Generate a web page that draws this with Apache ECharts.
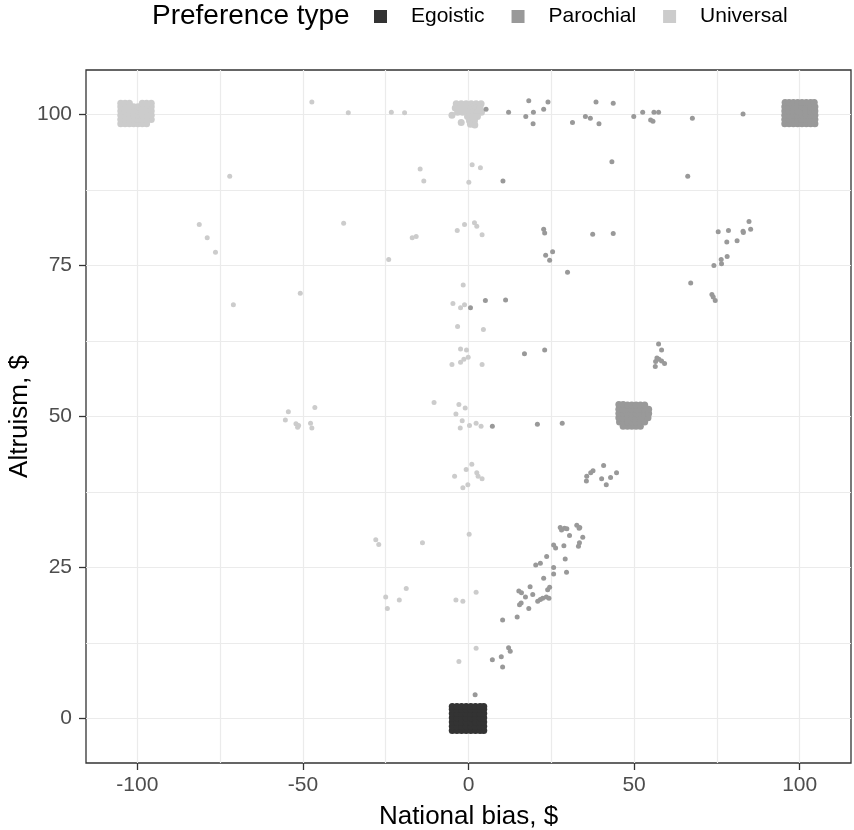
<!DOCTYPE html>
<html>
<head>
<meta charset="utf-8">
<script src="https://cdn.jsdelivr.net/npm/echarts@6/dist/echarts.min.js"></script>
<style>html,body{margin:0;padding:0;background:#fff}#c{width:854px;height:830px}</style>
</head>
<body>
<div id="c"></div>
<script>
const categories = ['Egoistic', 'Parochial', 'Universal'];
const xTicks = [-100, -50, 0, 50, 100];
const yTicks = [0, 25, 50, 75, 100];
const xGrid = [-100, -75, -50, -25, 0, 25, 50, 75, 100];
const yGrid = [0, 12.5, 25, 37.5, 50, 62.5, 75, 87.5, 100];

// Dense (over-plotted) groups of responses
const egoisticCluster = [
  [-4.9,-2.0],[-3.5,-2.0],[-2.1,-2.0],[-0.7,-2.0],[0.7,-2.0],[2.1,-2.0],[3.5,-2.0],[4.6,-2.0],
  [-4.9,-1.3],[-3.5,-1.3],[-2.1,-1.3],[-0.7,-1.3],[0.7,-1.3],[2.1,-1.3],[3.5,-1.3],[4.6,-1.3],
  [-4.9,-0.6],[-3.5,-0.6],[-2.1,-0.6],[-0.7,-0.6],[0.7,-0.6],[2.1,-0.6],[3.5,-0.6],[4.6,-0.6],
  [-4.9,0.1],[-3.5,0.1],[-2.1,0.1],[-0.7,0.1],[0.7,0.1],[2.1,0.1],[3.5,0.1],[4.6,0.1],
  [-4.9,0.8],[-3.5,0.8],[-2.1,0.8],[-0.7,0.8],[0.7,0.8],[2.1,0.8],[3.5,0.8],[4.6,0.8],
  [-4.9,1.5],[-3.5,1.5],[-2.1,1.5],[-0.7,1.5],[0.7,1.5],[2.1,1.5],[3.5,1.5],[4.6,1.5],
  [-4.9,1.95],[-3.5,1.95],[-2.1,1.95],[-0.7,1.95],[0.7,1.95],[2.1,1.95],[3.5,1.95],[4.6,1.95]
];

const parochialCluster = [
  // near (100, 100)
  [95.5,98.5],[96.8,98.5],[98.1,98.5],[99.4,98.5],[100.7,98.5],[102.0,98.5],[103.3,98.5],[104.6,98.5],
  [95.5,99.2],[96.8,99.2],[98.1,99.2],[99.4,99.2],[100.7,99.2],[102.0,99.2],[103.3,99.2],[104.6,99.2],
  [95.5,99.9],[96.8,99.9],[98.1,99.9],[99.4,99.9],[100.7,99.9],[102.0,99.9],[103.3,99.9],[104.6,99.9],
  [95.5,100.6],[96.8,100.6],[98.1,100.6],[99.4,100.6],[100.7,100.6],[102.0,100.6],[103.3,100.6],[104.6,100.6],
  [95.5,101.3],[96.8,101.3],[98.1,101.3],[99.4,101.3],[100.7,101.3],[102.0,101.3],[103.3,101.3],[104.6,101.3],
  [95.6,102.0],[96.8,102.0],[98.1,102.0],[99.4,102.0],[100.7,102.0],[102.0,102.0],[103.3,102.0],[104.4,102.0],
  // near (50, 50)
  [46.7,48.4],[48.0,48.4],[49.3,48.4],[50.6,48.4],[51.9,48.4],
  [45.6,49.1],[46.7,49.1],[48.0,49.1],[49.3,49.1],[50.6,49.1],[51.9,49.1],[53.2,49.1],
  [45.4,49.8],[46.7,49.8],[48.0,49.8],[49.3,49.8],[50.6,49.8],[51.9,49.8],[53.2,49.8],[54.2,49.8],
  [45.4,50.5],[46.7,50.5],[48.0,50.5],[49.3,50.5],[50.6,50.5],[51.9,50.5],[53.2,50.5],[54.4,50.5],
  [45.4,51.2],[46.7,51.2],[48.0,51.2],[49.3,51.2],[50.6,51.2],[51.9,51.2],[53.2,51.2],[54.4,51.2],
  [45.4,52.0],[46.7,52.0],[48.0,51.9],[49.3,51.9],[50.6,51.9],[51.9,51.9],[53.2,51.9]
];

const universalCluster = [
  // near (-100, 100)
  [-105.0,98.5],[-103.7,98.5],[-102.4,98.5],[-101.1,98.5],[-99.8,98.5],[-98.5,98.5],[-97.2,98.5],
  [-105.0,99.2],[-103.7,99.2],[-102.4,99.2],[-101.1,99.2],[-99.8,99.2],[-98.5,99.2],[-97.2,99.2],[-95.8,99.2],
  [-105.0,99.9],[-103.7,99.9],[-102.4,99.9],[-101.1,99.9],[-99.8,99.9],[-98.5,99.9],[-97.2,99.9],[-95.8,99.9],
  [-105.0,100.6],[-103.7,100.6],[-102.4,100.6],[-101.1,100.6],[-99.8,100.6],[-98.5,100.6],[-97.2,100.6],[-95.8,100.6],
  [-105.0,101.3],[-103.7,101.3],[-102.4,101.3],[-101.1,101.3],[-99.8,101.3],[-98.5,101.3],[-97.2,101.3],[-95.8,101.3],
  [-105.0,101.9],[-103.7,101.9],[-102.4,101.9],[-98.5,101.9],[-97.2,101.9],[-95.8,101.9],
  // near (0, 100)
  [-3.7,101.8],[-2.2,101.8],[-0.7,101.8],[0.8,101.8],[2.3,101.8],[3.8,101.8],
  [-4.0,101.1],[-2.5,101.1],[-1.0,101.1],[0.5,101.1],[2.0,101.1],[3.5,101.1],
  [-3.3,100.4],[-1.8,100.4],[-0.3,100.4],[1.2,100.4],[2.7,100.4],[3.9,100.4],
  [-5.0,99.9],[-0.3,99.7],[1.2,99.7],[2.7,99.7],
  [-2.2,98.7],[0.3,99.0],[1.8,99.0],[0.6,98.4],[1.9,98.3]
];

// Individual responses
const egoistic = [];

const parochial = [
  [5.3,100.9],[12.1,100.4],[18.2,102.3],[19.6,100.4],[17.3,99.7],[19.5,98.5],[22.7,100.9],[24.0,102.1],
  [31.4,98.7],[35.3,99.7],[36.8,99.4],[38.5,102.1],[39.4,98.5],[43.7,101.9],[43.3,92.2],[49.9,99.7],
  [52.6,100.4],[56.0,100.4],[57.4,100.4],[55.0,99.1],[55.7,98.9],[67.6,99.4],[82.9,100.1],[66.2,89.8],[10.4,89.0],
  [43.7,80.3],[37.5,80.2],[22.7,81.0],[23.0,80.4],[23.3,76.7],[24.5,75.9],[25.4,77.3],[29.9,73.9],
  [75.4,80.6],[78.5,80.8],[82.9,80.7],[83.0,80.5],[84.7,82.3],[85.2,81.0],[78.0,78.9],[81.1,79.1],
  [76.3,76.0],[78.1,76.5],[74.1,75.0],[76.4,75.3],[67.1,72.1],[73.5,70.2],[73.9,69.8],[74.5,69.2],
  [0.6,68.0],[5.1,69.2],[11.2,69.3],[16.9,60.4],[23.0,61.0],
  [57.4,62.0],[58.3,61.0],[56.9,59.7],[57.5,59.5],[58.3,59.2],[59.2,58.8],[56.5,59.1],[56.4,58.3],
  [7.2,48.4],[20.8,48.7],[28.3,48.9],
  [40.8,41.9],[37.6,41.0],[36.9,40.7],[35.7,40.1],[35.6,39.3],[44.7,40.7],[40.2,39.7],[42.9,39.9],[41.6,38.7],
  [27.7,31.6],[29.0,31.5],[28.1,31.2],[29.7,31.4],[32.7,32.0],[33.6,31.6],[33.4,31.5],[30.5,30.3],[34.5,30.0],
  [33.5,29.1],[33.2,28.5],[28.8,28.6],[25.7,28.7],[26.3,28.2],[23.6,26.8],[29.2,26.4],[20.3,25.4],[21.7,25.7],
  [25.7,25.0],[25.7,23.9],[29.6,24.2],[22.7,23.2],[18.6,21.8],[15.2,21.1],[16.0,20.8],[24.5,21.7],[23.9,21.3],
  [19.4,20.5],[17.2,20.1],[15.9,19.1],[15.4,18.8],[18.2,18.2],[20.9,19.4],[21.7,19.7],[22.4,19.9],[23.5,20.1],
  [24.3,19.9],[14.7,16.8],[10.3,16.3],[12.1,11.7],[12.6,11.1],[9.9,10.2],[7.2,9.7],[10.3,8.5],[2.0,3.9]
];

const universal = [
  [-47.3,102.1],[-36.3,100.3],[-23.3,100.4],[-19.3,100.3],[-72.1,89.8],[-14.6,91.0],[-13.5,89.0],
  [1.1,91.7],[3.6,91.2],[0.1,88.8],
  [-81.3,81.8],[-78.9,79.6],[-76.4,77.2],[-37.7,82.0],[-17.0,79.6],[-15.8,79.8],[-24.1,76.0],
  [-3.4,80.8],[-1.2,81.8],[1.8,82.1],[2.5,81.5],[4.1,80.1],
  [-71.0,68.5],[-50.8,70.4],[-1.6,71.8],[-4.7,68.7],[-2.4,68.0],[-1.2,68.5],[-3.3,64.9],[4.5,64.4],
  [-2.4,61.2],[-0.6,61.0],[-5.0,58.6],[-2.4,59.0],[-1.4,59.5],[-0.1,59.8],[4.1,58.6],
  [-54.4,50.8],[-55.3,49.4],[-52.1,48.8],[-51.3,48.5],[-51.6,48.2],[-46.4,51.5],[-47.7,48.9],[-47.3,48.1],
  [-10.4,52.3],[-2.9,52.0],[-1.0,51.4],[-3.8,50.4],[-1.9,49.3],[-2.5,48.1],[0.3,48.5],[2.3,48.9],[3.8,48.4],
  [1.0,42.1],[-0.7,41.2],[-4.2,40.1],[2.5,40.7],[2.9,40.1],[4.1,39.7],[-1.7,38.2],[-0.2,38.7],
  [-28.0,29.6],[-27.1,28.8],[-13.9,29.1],[0.2,30.5],
  [-25.0,20.1],[-24.5,18.2],[-20.9,19.6],[-18.8,21.5],[-3.8,19.6],[-1.7,19.4],[2.3,20.9],[2.3,11.6],[-2.9,9.4]
];

const colors = {Egoistic: '#333333', Parochial: '#999999', Universal: '#cccccc'};
const FONT = '"Liberation Sans", Arial, Helvetica, sans-serif';

const chart = echarts.init(document.getElementById('c'), null, {renderer: 'canvas'});

function pointSeries(name, data, z, size) {
  return {
    name: name, type: 'scatter', data: data, symbol: 'circle', symbolSize: size,
    itemStyle: {color: colors[name], opacity: 1}, z: z, silent: true
  };
}

const gridLineStyle = {color: '#ebebeb', width: 1.2, type: 'solid'};

const option = {
  animation: false,
  backgroundColor: '#ffffff',
  textStyle: {fontFamily: FONT},
  title: {
    text: 'Preference type', left: 152, top: 2, padding: 0,
    textStyle: {fontSize: 28, fontWeight: 'normal', color: '#000000', fontFamily: FONT}
  },
  legend: {
    data: categories, left: 374, top: 6, padding: 0,
    icon: 'rect', itemWidth: 13, itemHeight: 13, itemGap: 27,
    textStyle: {fontSize: 21, color: '#000000', fontFamily: FONT, padding: [0, 0, 0, 19]},
    selectedMode: false
  },
  grid: {
    left: 86, right: 3, top: 70, bottom: 67, show: true,
    outerBoundsMode: 'none', containLabel: false,
    borderColor: '#333333', borderWidth: 1.3, backgroundColor: '#ffffff'
  },
  xAxis: {
    type: 'value', min: -115.5, max: 115.5,
    name: 'National bias, $', nameLocation: 'middle', nameGap: 41, nameMoveOverlap: false,
    nameTextStyle: {fontSize: 26, color: '#000000', fontFamily: FONT},
    axisLine: {show: false, onZero: false},
    axisTick: {show: true, customValues: xTicks, length: 7, lineStyle: {color: '#333333', width: 1.3}},
    axisLabel: {customValues: xTicks, fontSize: 21, color: '#4d4d4d', margin: 12, fontFamily: FONT},
    splitLine: {show: false}
  },
  yAxis: {
    type: 'value', min: -7.4, max: 107.4,
    name: 'Altruism, $', nameLocation: 'middle', nameGap: 53, nameRotate: 90, nameMoveOverlap: false,
    nameTextStyle: {fontSize: 26, color: '#000000', fontFamily: FONT},
    axisLine: {show: false, onZero: false},
    axisTick: {show: true, customValues: yTicks, length: 7, lineStyle: {color: '#333333', width: 1.3}},
    axisLabel: {customValues: yTicks, fontSize: 21, color: '#4d4d4d', margin: 14, fontFamily: FONT},
    splitLine: {show: false}
  },
  series: [
    {
      name: 'grid', type: 'scatter', data: [], z: 1, silent: true,
      markLine: {
        silent: true, symbol: ['none', 'none'], animation: false, z: 1,
        label: {show: false}, lineStyle: gridLineStyle,
        emphasis: {disabled: true},
        data: xGrid.map(v => ({xAxis: v})).concat(yGrid.map(v => ({yAxis: v})))
      }
    },
    pointSeries('Universal', universalCluster, 10, 7),
    pointSeries('Universal', universal, 10, 5),
    pointSeries('Parochial', parochialCluster, 11, 7),
    pointSeries('Parochial', parochial, 11, 5),
    pointSeries('Egoistic', egoisticCluster, 12, 7),
    pointSeries('Egoistic', egoistic, 12, 5)
  ]
};
chart.setOption(option);
</script>
</body>
</html>
